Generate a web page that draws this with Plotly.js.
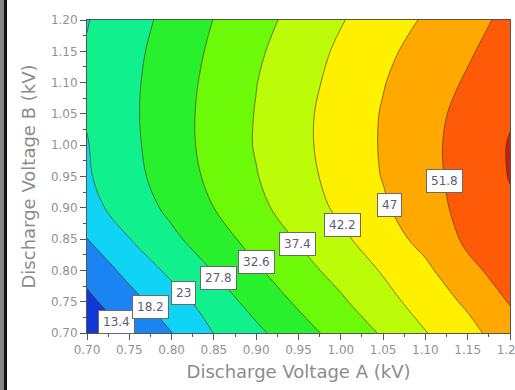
<!DOCTYPE html>
<html>
<head>
<meta charset="utf-8">
<script src="https://cdn.plot.ly/plotly-3.0.1.min.js"></script>
<style>
  html, body { margin: 0; padding: 0; background: #fff; }
  #chart { width: 515px; height: 390px; }
  #frameGray { position: absolute; left: 0; top: 0; width: 4px; height: 390px; background: #858585; }
  #frameBlack { position: absolute; left: 4px; top: 0; width: 3px; height: 390px; background: #111; }
</style>
</head>
<body>
<div id="chart"></div>
<div id="frameGray"></div>
<div id="frameBlack"></div>
<script>
// Discharge Voltage A (kV) grid
var voltageA = [0.70, 0.75, 0.80, 0.85, 0.90, 0.95, 1.00, 1.05, 1.10, 1.15, 1.20];
// Discharge Voltage B (kV) grid
var voltageB = [0.70, 0.75, 0.80, 0.85, 0.90, 0.95, 1.00, 1.05, 1.10, 1.15, 1.20];
// Response values, one row per voltageB (bottom to top)
var row070 = [9.5, 13.6, 18.1, 23.1, 26.8, 30.7, 34.4, 37.9, 42.0, 45.5, 49.8];
var row075 = [12.3, 16.5, 20.9, 25.3, 29.5, 33.3, 36.7, 40.6, 44.2, 47.8, 52.1];
var row080 = [14.9, 19.6, 24.1, 28.0, 32.0, 35.6, 39.1, 42.6, 46.0, 50.8, 53.6];
var row085 = [18.1, 22.9, 26.8, 30.6, 34.3, 37.8, 41.3, 44.8, 48.5, 52.6, 55.0];
var row090 = [21.5, 25.1, 28.9, 32.6, 36.2, 39.7, 43.1, 46.4, 49.9, 53.3, 56.0];
var row095 = [22.5, 26.3, 30.0, 33.7, 37.2, 40.6, 43.9, 47.2, 50.4, 53.6, 56.8];
var row100 = [22.8, 26.7, 30.5, 34.2, 37.7, 41.0, 44.3, 47.4, 50.5, 53.7, 56.9];
var row105 = [23.3, 26.9, 30.6, 34.2, 37.6, 41.0, 44.2, 47.3, 50.2, 53.3, 56.2];
var row110 = [23.6, 26.8, 30.4, 33.9, 37.3, 40.5, 43.7, 46.8, 49.6, 52.3, 55.3];
var row115 = [23.3, 26.5, 29.9, 33.4, 36.7, 39.8, 43.0, 46.0, 48.7, 51.3, 54.0];
var row120 = [22.8, 25.9, 29.2, 32.7, 35.8, 38.9, 41.9, 44.7, 47.5, 50.2, 53.0];
// Contour levels shown in the labels
var levels = [13.4, 18.2, 23, 27.8, 32.6, 37.4, 42.2, 47, 51.8, 56.6];
// Tick values
var tickVals = [0.70, 0.75, 0.80, 0.85, 0.90, 0.95, 1.00, 1.05, 1.10, 1.15, 1.20];

var zGrid = [row070, row075, row080, row085, row090, row095, row100, row105, row110, row115, row120];

var bandColors = ['#1038d8', '#1a84f2', '#10d4f6', '#10f08c', '#28f02c', '#6cfa08',
                  '#bcfc08', '#fff000', '#ffa800', '#ff5a08', '#c82008'];
var colorscale = bandColors.map(function (c, k) { return [k / (bandColors.length - 1), c]; });

var step = levels[1] - levels[0];

var trace = {
  type: 'contour',
  x: voltageA,
  y: voltageB,
  z: zGrid,
  colorscale: colorscale,
  showscale: false,
  hoverinfo: 'skip',
  contours: {
    start: levels[0],
    end: levels[levels.length - 1],
    size: step,
    coloring: 'fill',
    showlabels: false
  },
  line: { color: 'rgba(70,60,20,0.65)', width: 1, smoothing: 1.0 }
};

// place contour labels where each level crosses a diagonal through the plot
function zAt(x, y) {
  var fi = (x - voltageA[0]) / (voltageA[1] - voltageA[0]);
  var fj = (y - voltageB[0]) / (voltageB[1] - voltageB[0]);
  var i = Math.max(0, Math.min(Math.floor(fi), voltageA.length - 2));
  var j = Math.max(0, Math.min(Math.floor(fj), voltageB.length - 2));
  var tx = fi - i, ty = fj - j;
  return zGrid[j][i] * (1 - tx) * (1 - ty) + zGrid[j][i + 1] * tx * (1 - ty) +
         zGrid[j + 1][i] * (1 - tx) * ty + zGrid[j + 1][i + 1] * tx * ty;
}
var pA = [0.712, 0.705], pB = [1.16, 0.964];
var annotations = [];
levels.slice(0, 9).forEach(function (lv) {
  var prev = zAt(pA[0], pA[1]);
  for (var s = 1; s <= 3000; s++) {
    var t = s / 3000;
    var x = pA[0] + t * (pB[0] - pA[0]);
    var y = pA[1] + t * (pB[1] - pA[1]);
    var v = zAt(x, y);
    if ((prev - lv) * (v - lv) <= 0) {
      annotations.push({
        x: x, y: y, xref: 'x', yref: 'y', showarrow: false,
        text: String(lv),
        font: { family: 'DejaVu Sans, sans-serif', size: 12, color: '#5c5c78' },
        bgcolor: '#ffffff', bordercolor: '#6a6a6a', borderwidth: 1, borderpad: 4
      });
      break;
    }
    prev = v;
  }
});

var axisCommon = {
  range: [0.70, 1.20],
  tickvals: tickVals,
  tickformat: '.2f',
  ticks: 'outside',
  ticklen: 6,
  tickwidth: 1,
  tickcolor: '#555',
  ticklabeloverflow: 'allow',
  showline: true,
  mirror: true,
  linecolor: '#555',
  linewidth: 1,
  showgrid: false,
  zeroline: false,
  tickfont: { family: 'DejaVu Sans, sans-serif', size: 12, color: '#929292' },
  minor: { dtick: 0.025, ticks: 'outside', ticklen: 3, tickcolor: '#555', showgrid: false }
};

var layout = {
  width: 515,
  height: 390,
  margin: { l: 87, r: 5, t: 20, b: 57 },
  paper_bgcolor: '#ffffff',
  plot_bgcolor: '#ffffff',
  showlegend: false,
  xaxis: Object.assign({}, axisCommon, {
    title: { text: 'Discharge Voltage A (kV)', standoff: 8,
             font: { family: 'DejaVu Sans, sans-serif', size: 18, color: '#8c8c8c' } }
  }),
  yaxis: Object.assign({}, axisCommon, {
    title: { text: 'Discharge Voltage B (kV)', standoff: 10,
             font: { family: 'DejaVu Sans, sans-serif', size: 18, color: '#8c8c8c' } }
  }),
  annotations: annotations
};

Plotly.newPlot('chart', [trace], layout, { displayModeBar: false, staticPlot: true });
</script>
</body>
</html>
